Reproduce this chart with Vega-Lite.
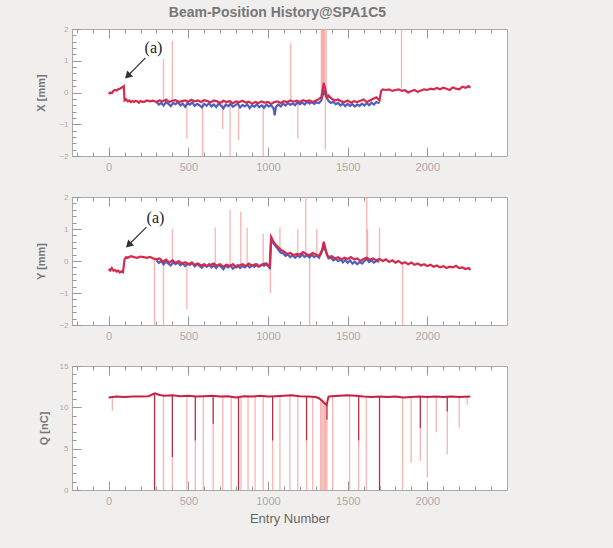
{
  "$schema": "https://vega.github.io/schema/vega-lite/v6.json",
  "background": "#f1efee",
  "padding": {"left": 35, "top": 5, "right": 105, "bottom": 22},
  "title": {"text": "Beam-Position History@SPA1C5", "fontSize": 14, "color": "#777", "fontWeight": "bold", "font": "Liberation Sans", "offset": 5, "anchor": "middle", "dx": 6},
  "config": {
    "view": {"fill": "white", "stroke": "#aaa", "strokeWidth": 1},
    "axis": {"grid": false, "domain": false, "labelColor": "#aaa", "titleColor": "#777", "tickColor": "#999", "labelFont": "Liberation Sans", "titleFont": "Liberation Sans"},
    "concat": {"spacing": 19}
  },
  "datasets": {
    "xr": [
      {"e":0,"v":-0.05},{"e":10,"v":0.0},{"e":20,"v":-0.02},{"e":30,"v":0.05},{"e":40,"v":0.08},{"e":50,"v":0.06},{"e":60,"v":0.1},{"e":70,"v":0.12},{"e":80,"v":0.15},{"e":90,"v":0.18},{"e":95,"v":0.2},
      {"e":100,"v":-0.25},{"e":110,"v":-0.22},{"e":120,"v":-0.28},{"e":130,"v":-0.25},{"e":140,"v":-0.3},{"e":150,"v":-0.27},{"e":160,"v":-0.3},{"e":170,"v":-0.26},{"e":180,"v":-0.28},{"e":190,"v":-0.32},{"e":200,"v":-0.27},
      {"e":220,"v":-0.3},{"e":240,"v":-0.25},{"e":260,"v":-0.28},{"e":280,"v":-0.26},{"e":300,"v":-0.3},{"e":320,"v":-0.25},{"e":340,"v":-0.28},{"e":360,"v":-0.22},{"e":380,"v":-0.3},{"e":400,"v":-0.26},
      {"e":420,"v":-0.24},{"e":440,"v":-0.3},{"e":460,"v":-0.27},{"e":480,"v":-0.25},{"e":500,"v":-0.29},{"e":520,"v":-0.23},{"e":540,"v":-0.28},{"e":560,"v":-0.25},{"e":580,"v":-0.3},{"e":600,"v":-0.24},
      {"e":620,"v":-0.27},{"e":640,"v":-0.31},{"e":660,"v":-0.25},{"e":680,"v":-0.28},{"e":700,"v":-0.33},{"e":720,"v":-0.26},{"e":740,"v":-0.3},{"e":760,"v":-0.27},{"e":780,"v":-0.34},{"e":800,"v":-0.28},
      {"e":820,"v":-0.3},{"e":840,"v":-0.26},{"e":860,"v":-0.32},{"e":880,"v":-0.29},{"e":900,"v":-0.35},{"e":920,"v":-0.3},{"e":940,"v":-0.33},{"e":960,"v":-0.28},{"e":980,"v":-0.32},{"e":1000,"v":-0.3},
      {"e":1020,"v":-0.36},{"e":1040,"v":-0.3},{"e":1060,"v":-0.28},{"e":1080,"v":-0.33},{"e":1100,"v":-0.27},{"e":1120,"v":-0.3},{"e":1140,"v":-0.25},{"e":1160,"v":-0.29},{"e":1180,"v":-0.26},{"e":1200,"v":-0.3},
      {"e":1220,"v":-0.24},{"e":1240,"v":-0.28},{"e":1260,"v":-0.25},{"e":1280,"v":-0.3},{"e":1300,"v":-0.26},{"e":1320,"v":-0.2},{"e":1335,"v":-0.15},{"e":1350,"v":0.3},{"e":1360,"v":0.1},{"e":1370,"v":-0.15},
      {"e":1380,"v":-0.1},{"e":1400,"v":-0.2},{"e":1420,"v":-0.25},{"e":1440,"v":-0.22},{"e":1460,"v":-0.28},{"e":1480,"v":-0.3},{"e":1500,"v":-0.25},{"e":1520,"v":-0.32},{"e":1540,"v":-0.27},{"e":1560,"v":-0.3},
      {"e":1580,"v":-0.26},{"e":1600,"v":-0.22},{"e":1620,"v":-0.3},{"e":1640,"v":-0.25},{"e":1660,"v":-0.2},{"e":1680,"v":-0.15},{"e":1700,"v":-0.25},{"e":1710,"v":0.05},{"e":1720,"v":0.1},{"e":1740,"v":0.08},
      {"e":1760,"v":0.1},{"e":1780,"v":0.05},{"e":1800,"v":0.08},{"e":1820,"v":0.1},{"e":1840,"v":0.05},{"e":1860,"v":0.07},{"e":1880,"v":0.0},{"e":1900,"v":0.05},{"e":1920,"v":0.08},{"e":1940,"v":0.02},
      {"e":1960,"v":0.06},{"e":1980,"v":0.1},{"e":2000,"v":0.08},{"e":2020,"v":0.12},{"e":2040,"v":0.1},{"e":2060,"v":0.14},{"e":2080,"v":0.1},{"e":2100,"v":0.15},{"e":2120,"v":0.12},{"e":2140,"v":0.08},
      {"e":2160,"v":0.16},{"e":2180,"v":0.12},{"e":2200,"v":0.1},{"e":2220,"v":0.18},{"e":2240,"v":0.15},{"e":2260,"v":0.2},{"e":2270,"v":0.15}
    ],
    "xb": [
      {"e":300,"v":-0.3},{"e":315,"v":-0.38},{"e":330,"v":-0.33},{"e":345,"v":-0.41},{"e":360,"v":-0.3},{"e":375,"v":-0.36},{"e":390,"v":-0.43},{"e":405,"v":-0.33},{"e":420,"v":-0.37},{"e":435,"v":-0.3},
      {"e":450,"v":-0.41},{"e":465,"v":-0.35},{"e":480,"v":-0.45},{"e":495,"v":-0.34},{"e":510,"v":-0.38},{"e":525,"v":-0.31},{"e":540,"v":-0.42},{"e":555,"v":-0.36},{"e":570,"v":-0.4},{"e":585,"v":-0.47},
      {"e":600,"v":-0.36},{"e":615,"v":-0.42},{"e":630,"v":-0.33},{"e":645,"v":-0.44},{"e":660,"v":-0.38},{"e":675,"v":-0.46},{"e":690,"v":-0.35},{"e":705,"v":-0.41},{"e":720,"v":-0.5},{"e":735,"v":-0.38},
      {"e":750,"v":-0.43},{"e":765,"v":-0.36},{"e":780,"v":-0.45},{"e":795,"v":-0.4},{"e":810,"v":-0.35},{"e":825,"v":-0.47},{"e":840,"v":-0.39},{"e":855,"v":-0.44},{"e":870,"v":-0.37},{"e":885,"v":-0.49},
      {"e":900,"v":-0.4},{"e":915,"v":-0.45},{"e":930,"v":-0.37},{"e":945,"v":-0.46},{"e":960,"v":-0.41},{"e":975,"v":-0.48},{"e":990,"v":-0.38},{"e":1005,"v":-0.44},{"e":1020,"v":-0.4},{"e":1035,"v":-0.5},
      {"e":1042,"v":-0.72},{"e":1050,"v":-0.45},{"e":1065,"v":-0.38},{"e":1080,"v":-0.44},{"e":1095,"v":-0.35},{"e":1110,"v":-0.41},{"e":1125,"v":-0.33},{"e":1140,"v":-0.39},{"e":1155,"v":-0.34},{"e":1170,"v":-0.4},
      {"e":1185,"v":-0.31},{"e":1200,"v":-0.37},{"e":1215,"v":-0.32},{"e":1230,"v":-0.38},{"e":1245,"v":-0.29},{"e":1260,"v":-0.35},{"e":1275,"v":-0.3},{"e":1290,"v":-0.36},{"e":1305,"v":-0.31},{"e":1320,"v":-0.33},
      {"e":1335,"v":-0.25},{"e":1350,"v":0.05},{"e":1365,"v":-0.12},{"e":1380,"v":-0.27},{"e":1395,"v":-0.33},{"e":1410,"v":-0.29},{"e":1425,"v":-0.37},{"e":1440,"v":-0.33},{"e":1455,"v":-0.41},{"e":1470,"v":-0.35},
      {"e":1485,"v":-0.43},{"e":1500,"v":-0.36},{"e":1515,"v":-0.42},{"e":1530,"v":-0.37},{"e":1545,"v":-0.44},{"e":1560,"v":-0.38},{"e":1575,"v":-0.42},{"e":1590,"v":-0.35},{"e":1605,"v":-0.41},{"e":1620,"v":-0.33},
      {"e":1635,"v":-0.4},{"e":1650,"v":-0.32},{"e":1665,"v":-0.38},{"e":1680,"v":-0.3},{"e":1700,"v":-0.34}
    ],
    "xsp": [
      {"e":344,"b":-0.27,"v":1.05},{"e":400,"b":-0.26,"v":1.62},{"e":491,"b":-0.28,"v":-1.45},{"e":590,"b":-0.28,"v":-2},{"e":716,"b":-0.28,"v":-1.15},
      {"e":762,"b":-0.28,"v":-2},{"e":815,"b":-0.29,"v":-1.5},{"e":970,"b":-0.3,"v":-2},{"e":1143,"b":-0.27,"v":1.55},{"e":1187,"b":-0.28,"v":-1.45},
      {"e":1335,"b":-0.2,"v":2},{"e":1340,"b":-0.2,"v":2},{"e":1345,"b":-0.1,"v":2},{"e":1350,"b":0,"v":2},{"e":1355,"b":0.2,"v":2},{"e":1360,"b":0,"v":-1.8},{"e":1365,"b":-0.1,"v":2},
      {"e":1838,"b":0.05,"v":2}
    ],
    "yr": [
      {"e":0,"v":-0.25},{"e":10,"v":-0.3},{"e":20,"v":-0.22},{"e":30,"v":-0.3},{"e":40,"v":-0.28},{"e":50,"v":-0.33},{"e":60,"v":-0.3},{"e":70,"v":-0.36},{"e":80,"v":-0.32},{"e":90,"v":-0.35},
      {"e":100,"v":0.05},{"e":110,"v":0.12},{"e":120,"v":0.1},{"e":140,"v":0.15},{"e":160,"v":0.12},{"e":180,"v":0.1},{"e":200,"v":0.14},{"e":220,"v":0.12},{"e":240,"v":0.1},{"e":260,"v":0.13},
      {"e":280,"v":0.08},{"e":300,"v":0.05},{"e":320,"v":0.08},{"e":340,"v":-0.02},{"e":360,"v":0.04},{"e":380,"v":-0.05},{"e":400,"v":0.02},{"e":420,"v":-0.06},{"e":440,"v":0.0},{"e":460,"v":-0.08},
      {"e":480,"v":-0.04},{"e":500,"v":-0.1},{"e":520,"v":-0.05},{"e":540,"v":-0.12},{"e":560,"v":-0.08},{"e":580,"v":-0.14},{"e":600,"v":-0.1},{"e":620,"v":-0.16},{"e":640,"v":-0.12},{"e":660,"v":-0.08},
      {"e":680,"v":-0.15},{"e":700,"v":-0.1},{"e":720,"v":-0.18},{"e":740,"v":-0.12},{"e":760,"v":-0.16},{"e":780,"v":-0.1},{"e":800,"v":-0.2},{"e":820,"v":-0.14},{"e":840,"v":-0.1},{"e":860,"v":-0.16},
      {"e":880,"v":-0.08},{"e":900,"v":-0.15},{"e":920,"v":-0.1},{"e":940,"v":-0.18},{"e":960,"v":-0.12},{"e":980,"v":-0.08},{"e":1000,"v":-0.15},{"e":1010,"v":-0.2},{"e":1020,"v":0.75},{"e":1030,"v":0.65},
      {"e":1040,"v":0.55},{"e":1060,"v":0.45},{"e":1080,"v":0.35},{"e":1100,"v":0.3},{"e":1120,"v":0.22},{"e":1140,"v":0.25},{"e":1160,"v":0.18},{"e":1180,"v":0.22},{"e":1200,"v":0.2},{"e":1220,"v":0.28},
      {"e":1240,"v":0.22},{"e":1260,"v":0.18},{"e":1280,"v":0.25},{"e":1300,"v":0.2},{"e":1320,"v":0.15},{"e":1340,"v":0.35},{"e":1350,"v":0.6},{"e":1360,"v":0.4},{"e":1370,"v":0.2},{"e":1380,"v":0.12},
      {"e":1400,"v":0.15},{"e":1420,"v":0.08},{"e":1440,"v":0.12},{"e":1460,"v":0.05},{"e":1480,"v":0.1},{"e":1500,"v":0.06},{"e":1520,"v":0.12},{"e":1540,"v":0.05},{"e":1560,"v":0.08},{"e":1580,"v":0.0},
      {"e":1600,"v":0.06},{"e":1620,"v":0.1},{"e":1640,"v":0.04},{"e":1660,"v":0.08},{"e":1680,"v":0.02},{"e":1700,"v":0.06},{"e":1720,"v":0.0},{"e":1740,"v":0.05},{"e":1760,"v":-0.03},{"e":1780,"v":0.02},
      {"e":1800,"v":-0.05},{"e":1820,"v":0.0},{"e":1840,"v":-0.08},{"e":1860,"v":-0.04},{"e":1880,"v":-0.1},{"e":1900,"v":-0.05},{"e":1920,"v":-0.12},{"e":1940,"v":-0.08},{"e":1960,"v":-0.14},{"e":1980,"v":-0.1},
      {"e":2000,"v":-0.16},{"e":2020,"v":-0.12},{"e":2040,"v":-0.18},{"e":2060,"v":-0.14},{"e":2080,"v":-0.2},{"e":2100,"v":-0.16},{"e":2120,"v":-0.22},{"e":2140,"v":-0.18},{"e":2160,"v":-0.2},{"e":2180,"v":-0.15},
      {"e":2200,"v":-0.22},{"e":2220,"v":-0.2},{"e":2240,"v":-0.25},{"e":2260,"v":-0.22},{"e":2270,"v":-0.28}
    ],
    "yb": [
      {"e":300,"v":0.02},{"e":315,"v":-0.06},{"e":330,"v":0.0},{"e":345,"v":-0.1},{"e":360,"v":-0.02},{"e":375,"v":-0.08},{"e":390,"v":-0.14},{"e":405,"v":-0.04},{"e":420,"v":-0.1},{"e":435,"v":-0.05},
      {"e":450,"v":-0.13},{"e":465,"v":-0.07},{"e":480,"v":-0.16},{"e":495,"v":-0.08},{"e":510,"v":-0.12},{"e":525,"v":-0.06},{"e":540,"v":-0.17},{"e":555,"v":-0.1},{"e":570,"v":-0.15},{"e":585,"v":-0.21},
      {"e":600,"v":-0.12},{"e":615,"v":-0.18},{"e":630,"v":-0.1},{"e":645,"v":-0.2},{"e":660,"v":-0.14},{"e":675,"v":-0.22},{"e":690,"v":-0.12},{"e":705,"v":-0.18},{"e":720,"v":-0.26},{"e":735,"v":-0.15},
      {"e":750,"v":-0.2},{"e":765,"v":-0.14},{"e":780,"v":-0.24},{"e":795,"v":-0.18},{"e":810,"v":-0.13},{"e":825,"v":-0.22},{"e":840,"v":-0.16},{"e":855,"v":-0.2},{"e":870,"v":-0.12},{"e":885,"v":-0.2},
      {"e":900,"v":-0.13},{"e":915,"v":-0.18},{"e":930,"v":-0.1},{"e":945,"v":-0.17},{"e":960,"v":-0.12},{"e":975,"v":-0.15},{"e":990,"v":-0.08},{"e":1005,"v":-0.14},{"e":1012,"v":-0.25},{"e":1020,"v":0.68},
      {"e":1035,"v":0.55},{"e":1050,"v":0.45},{"e":1065,"v":0.36},{"e":1080,"v":0.26},{"e":1095,"v":0.24},{"e":1110,"v":0.16},{"e":1125,"v":0.2},{"e":1140,"v":0.12},{"e":1155,"v":0.18},{"e":1170,"v":0.1},
      {"e":1185,"v":0.17},{"e":1200,"v":0.12},{"e":1215,"v":0.2},{"e":1230,"v":0.13},{"e":1245,"v":0.18},{"e":1260,"v":0.11},{"e":1275,"v":0.19},{"e":1290,"v":0.12},{"e":1305,"v":0.17},{"e":1320,"v":0.1},
      {"e":1335,"v":0.25},{"e":1350,"v":0.45},{"e":1365,"v":0.28},{"e":1380,"v":0.08},{"e":1395,"v":0.1},{"e":1410,"v":0.02},{"e":1425,"v":0.07},{"e":1440,"v":0.0},{"e":1455,"v":0.05},{"e":1470,"v":-0.04},
      {"e":1485,"v":0.03},{"e":1500,"v":-0.06},{"e":1515,"v":0.02},{"e":1530,"v":-0.08},{"e":1545,"v":-0.02},{"e":1560,"v":-0.1},{"e":1575,"v":-0.03},{"e":1590,"v":-0.08},{"e":1605,"v":0.0},{"e":1620,"v":0.06},
      {"e":1635,"v":-0.03},{"e":1650,"v":0.02},{"e":1665,"v":-0.05},{"e":1680,"v":0.0},{"e":1700,"v":-0.02}
    ],
    "ysp": [
      {"e":288,"b":0.08,"v":-2},{"e":344,"b":0.0,"v":-2},{"e":400,"b":0.0,"v":1.0},{"e":491,"b":-0.08,"v":-1.5},{"e":669,"b":-0.1,"v":1.05},
      {"e":762,"b":-0.15,"v":1.6},{"e":829,"b":-0.14,"v":1.55},{"e":869,"b":-0.12,"v":1.05},{"e":970,"b":-0.1,"v":0.85},{"e":1015,"b":-0.2,"v":-1.0},
      {"e":1075,"b":0.35,"v":1.05},{"e":1187,"b":0.22,"v":1.0},{"e":1237,"b":0.22,"v":2},{"e":1262,"b":0.2,"v":-2},{"e":1306,"b":0.2,"v":1.0},
      {"e":1620,"b":0.1,"v":2},{"e":1625,"b":0.1,"v":1.0},{"e":1700,"b":0.05,"v":1.05},{"e":1845,"b":-0.05,"v":-2}
    ],
    "qr": [
      {"e":0,"v":11.2},{"e":50,"v":11.3},{"e":100,"v":11.25},{"e":150,"v":11.3},{"e":200,"v":11.3},{"e":250,"v":11.35},{"e":290,"v":11.7},{"e":320,"v":11.5},{"e":350,"v":11.4},{"e":400,"v":11.45},
      {"e":450,"v":11.35},{"e":500,"v":11.4},{"e":550,"v":11.3},{"e":600,"v":11.35},{"e":650,"v":11.4},{"e":700,"v":11.3},{"e":750,"v":11.35},{"e":800,"v":11.2},{"e":850,"v":11.35},{"e":900,"v":11.3},
      {"e":950,"v":11.4},{"e":1000,"v":11.3},{"e":1050,"v":11.35},{"e":1100,"v":11.4},{"e":1150,"v":11.45},{"e":1200,"v":11.35},{"e":1250,"v":11.3},{"e":1300,"v":11.25},{"e":1320,"v":11.1},{"e":1340,"v":10.8},
      {"e":1355,"v":10.5},{"e":1368,"v":10.3},{"e":1380,"v":11.3},{"e":1400,"v":11.35},{"e":1450,"v":11.4},{"e":1500,"v":11.45},{"e":1550,"v":11.4},{"e":1600,"v":11.3},{"e":1650,"v":11.25},{"e":1700,"v":11.3},
      {"e":1750,"v":11.25},{"e":1800,"v":11.3},{"e":1850,"v":11.2},{"e":1900,"v":11.25},{"e":1950,"v":11.3},{"e":2000,"v":11.25},{"e":2050,"v":11.3},{"e":2100,"v":11.25},{"e":2150,"v":11.3},{"e":2200,"v":11.25},{"e":2270,"v":11.3}
    ],
    "qsp": [
      {"e":23,"b":11.2,"v":9.6},{"e":288,"b":11.6,"v":0},{"e":344,"b":11.4,"v":0},{"e":400,"b":11.45,"v":0},{"e":491,"b":11.4,"v":0},
      {"e":544,"b":11.3,"v":0},{"e":594,"b":11.35,"v":0},{"e":656,"b":11.4,"v":0},{"e":716,"b":11.3,"v":0},{"e":769,"b":11.35,"v":0},
      {"e":815,"b":11.2,"v":0},{"e":831,"b":11.3,"v":0},{"e":875,"b":11.35,"v":0},{"e":919,"b":11.3,"v":0},{"e":970,"b":11.4,"v":0},
      {"e":1029,"b":11.3,"v":0},{"e":1075,"b":11.35,"v":0},{"e":1137,"b":11.4,"v":0},{"e":1187,"b":11.4,"v":0},{"e":1242,"b":11.3,"v":0},
      {"e":1281,"b":11.25,"v":0},{"e":1330,"b":11.0,"v":0},{"e":1338,"b":10.9,"v":0},{"e":1346,"b":10.7,"v":0},{"e":1354,"b":10.5,"v":0},{"e":1362,"b":10.4,"v":0},{"e":1370,"b":10.3,"v":0},
      {"e":1406,"b":11.35,"v":0},{"e":1512,"b":11.45,"v":0},{"e":1569,"b":11.4,"v":0},{"e":1617,"b":11.3,"v":0},{"e":1700,"b":11.3,"v":0},
      {"e":1845,"b":11.2,"v":0},{"e":1898,"b":11.25,"v":3.3},{"e":1956,"b":11.3,"v":3.5},{"e":2000,"b":11.25,"v":1.5},{"e":2056,"b":11.3,"v":7.0},
      {"e":2125,"b":11.25,"v":4.3},{"e":2200,"b":11.25,"v":7.5},{"e":2250,"b":11.3,"v":10.3}
    ],
    "qdk": [
      {"e":288,"b":11.6,"v":0},{"e":400,"b":11.45,"v":4},{"e":544,"b":11.3,"v":6},{"e":656,"b":11.4,"v":8},{"e":815,"b":11.2,"v":0},
      {"e":1029,"b":11.3,"v":6},{"e":1242,"b":11.3,"v":6},{"e":1370,"b":10.3,"v":8.5},{"e":1569,"b":11.4,"v":6},{"e":1700,"b":11.3,"v":0},
      {"e":1956,"b":11.3,"v":7.5},{"e":2125,"b":11.25,"v":9.5}
    ],
    "xann": [{"e":281,"v":1.4,"t":"(a)"}],
    "xarrow": [{"e":231,"v":1.09,"e2":119,"v2":0.52}],
    "yann": [{"e":294,"v":1.34,"t":"(a)"}],
    "yarrow": [{"e":237,"v":1.06,"e2":125,"v2":0.5}]
  },
  "vconcat": [
    {
      "width": 435, "height": 127,
      "resolve": {"axis": {"x": "independent", "y": "independent"}},
      "layer": [
        {
          "data": {"name": "xsp"},
          "mark": {"type": "rule", "color": "#f4a29c", "strokeWidth": 1.3, "opacity": 0.8, "clip": true},
          "encoding": {
            "x": {"field": "e", "type": "quantitative", "scale": {"domain": [-230, 2500], "nice": false},
                  "axis": {"orient": "bottom", "values": [0, 500, 1000, 1500, 2000], "format": "d", "ticks": false, "labelPadding": 5, "labelFontSize": 11, "title": null}},
            "y": {"field": "b", "type": "quantitative", "scale": {"domain": [-2, 2], "nice": false},
                  "axis": {"orient": "left", "values": [-2, -1, 0, 1, 2], "ticks": false, "labelFontSize": 8, "labelPadding": 4, "title": "X [mm]", "titleFontSize": 11, "titleFontWeight": "bold", "titlePadding": 12}},
            "y2": {"field": "v"}
          }
        },
        {
          "data": {"name": "xb"},
          "mark": {"type": "line", "color": "#3b4fb8", "strokeWidth": 2.2, "opacity": 0.9, "clip": true},
          "encoding": {
            "x": {"field": "e", "type": "quantitative",
                  "axis": {"orient": "bottom", "values": [-200,-100,0,100,200,300,400,500,600,700,800,900,1000,1100,1200,1300,1400,1500,1600,1700,1800,1900,2000,2100,2200,2300,2400], "labels": false, "title": null, "tickSize": -4}},
            "y": {"field": "v", "type": "quantitative",
                  "axis": {"orient": "left", "values": [-2,-1.8,-1.6,-1.4,-1.2,-1,-0.8,-0.6,-0.4,-0.2,0,0.2,0.4,0.6,0.8,1,1.2,1.4,1.6,1.8,2], "labels": false, "title": null, "tickSize": -4}}
          }
        },
        {
          "data": {"name": "xr"},
          "mark": {"type": "line", "color": "#d42a4c", "strokeWidth": 2.2, "clip": true},
          "encoding": {
            "x": {"field": "e", "type": "quantitative",
                  "axis": {"orient": "top", "values": [-200,-100,0,100,200,300,400,500,600,700,800,900,1000,1100,1200,1300,1400,1500,1600,1700,1800,1900,2000,2100,2200,2300,2400], "labels": false, "title": null, "tickSize": -4}},
            "y": {"field": "v", "type": "quantitative", "axis": null}
          }
        },
        {
          "data": {"name": "xann"},
          "mark": {"type": "text", "font": "Liberation Serif", "fontSize": 16, "color": "#222"},
          "encoding": {
            "x": {"field": "e", "type": "quantitative", "axis": {"orient": "bottom", "values": [0, 500, 1000, 1500, 2000], "labels": false, "title": null, "tickSize": -9}},
            "y": {"field": "v", "type": "quantitative", "axis": {"orient": "left", "values": [-2, -1, 0, 1, 2], "labels": false, "title": null, "tickSize": -9}},
            "text": {"field": "t"}
          }
        },
        {
          "data": {"name": "xarrow"},
          "mark": {"type": "rule", "color": "#333", "strokeWidth": 1.2},
          "encoding": {
            "x": {"field": "e", "type": "quantitative", "axis": {"orient": "top", "values": [0, 500, 1000, 1500, 2000], "labels": false, "title": null, "tickSize": -9}},
            "y": {"field": "v", "type": "quantitative", "axis": null},
            "x2": {"field": "e2"},
            "y2": {"field": "v2"}
          }
        },
        {
          "data": {"name": "xarrow"},
          "mark": {"type": "point", "shape": "triangle-up", "filled": true, "color": "#333", "size": 70, "angle": 225, "opacity": 1},
          "encoding": {
            "x": {"field": "e2", "type": "quantitative", "axis": null},
            "y": {"field": "v2", "type": "quantitative", "axis": null}
          }
        }
      ]
    },
    {
      "width": 435, "height": 128,
      "resolve": {"axis": {"x": "independent", "y": "independent"}},
      "layer": [
        {
          "data": {"name": "ysp"},
          "mark": {"type": "rule", "color": "#f4a29c", "strokeWidth": 1.3, "opacity": 0.8, "clip": true},
          "encoding": {
            "x": {"field": "e", "type": "quantitative", "scale": {"domain": [-230, 2500], "nice": false},
                  "axis": {"orient": "bottom", "values": [0, 500, 1000, 1500, 2000], "format": "d", "ticks": false, "labelPadding": 5, "labelFontSize": 11, "title": null}},
            "y": {"field": "b", "type": "quantitative", "scale": {"domain": [-2, 2], "nice": false},
                  "axis": {"orient": "left", "values": [-2, -1, 0, 1, 2], "ticks": false, "labelFontSize": 8, "labelPadding": 4, "title": "Y [mm]", "titleFontSize": 11, "titleFontWeight": "bold", "titlePadding": 12}},
            "y2": {"field": "v"}
          }
        },
        {
          "data": {"name": "yb"},
          "mark": {"type": "line", "color": "#3b4fb8", "strokeWidth": 2.2, "opacity": 0.9, "clip": true},
          "encoding": {
            "x": {"field": "e", "type": "quantitative",
                  "axis": {"orient": "bottom", "values": [-200,-100,0,100,200,300,400,500,600,700,800,900,1000,1100,1200,1300,1400,1500,1600,1700,1800,1900,2000,2100,2200,2300,2400], "labels": false, "title": null, "tickSize": -4}},
            "y": {"field": "v", "type": "quantitative",
                  "axis": {"orient": "left", "values": [-2,-1.8,-1.6,-1.4,-1.2,-1,-0.8,-0.6,-0.4,-0.2,0,0.2,0.4,0.6,0.8,1,1.2,1.4,1.6,1.8,2], "labels": false, "title": null, "tickSize": -4}}
          }
        },
        {
          "data": {"name": "yr"},
          "mark": {"type": "line", "color": "#d42a4c", "strokeWidth": 2.2, "clip": true},
          "encoding": {
            "x": {"field": "e", "type": "quantitative",
                  "axis": {"orient": "top", "values": [-200,-100,0,100,200,300,400,500,600,700,800,900,1000,1100,1200,1300,1400,1500,1600,1700,1800,1900,2000,2100,2200,2300,2400], "labels": false, "title": null, "tickSize": -4}},
            "y": {"field": "v", "type": "quantitative", "axis": null}
          }
        },
        {
          "data": {"name": "yann"},
          "mark": {"type": "text", "font": "Liberation Serif", "fontSize": 16, "color": "#222"},
          "encoding": {
            "x": {"field": "e", "type": "quantitative", "axis": {"orient": "bottom", "values": [0, 500, 1000, 1500, 2000], "labels": false, "title": null, "tickSize": -9}},
            "y": {"field": "v", "type": "quantitative", "axis": {"orient": "left", "values": [-2, -1, 0, 1, 2], "labels": false, "title": null, "tickSize": -9}},
            "text": {"field": "t"}
          }
        },
        {
          "data": {"name": "yarrow"},
          "mark": {"type": "rule", "color": "#333", "strokeWidth": 1.2},
          "encoding": {
            "x": {"field": "e", "type": "quantitative", "axis": {"orient": "top", "values": [0, 500, 1000, 1500, 2000], "labels": false, "title": null, "tickSize": -9}},
            "y": {"field": "v", "type": "quantitative", "axis": null},
            "x2": {"field": "e2"},
            "y2": {"field": "v2"}
          }
        },
        {
          "data": {"name": "yarrow"},
          "mark": {"type": "point", "shape": "triangle-up", "filled": true, "color": "#333", "size": 70, "angle": 225, "opacity": 1},
          "encoding": {
            "x": {"field": "e2", "type": "quantitative", "axis": null},
            "y": {"field": "v2", "type": "quantitative", "axis": null}
          }
        }
      ]
    },
    {
      "width": 435, "height": 124,
      "resolve": {"axis": {"x": "independent", "y": "independent"}},
      "layer": [
        {
          "data": {"name": "qsp"},
          "mark": {"type": "rule", "color": "#f4a29c", "strokeWidth": 1.3, "opacity": 0.8, "clip": true},
          "encoding": {
            "x": {"field": "e", "type": "quantitative", "scale": {"domain": [-230, 2500], "nice": false},
                  "axis": {"orient": "bottom", "values": [0, 500, 1000, 1500, 2000], "format": "d", "ticks": false, "labelPadding": 5, "labelFontSize": 11, "title": "Entry Number", "titleFontSize": 13, "titleFontWeight": "normal", "titleColor": "#666", "titlePadding": 6}},
            "y": {"field": "b", "type": "quantitative", "scale": {"domain": [0, 15], "nice": false},
                  "axis": {"orient": "left", "values": [0, 5, 10, 15], "ticks": false, "labelFontSize": 8, "labelPadding": 4, "title": "Q [nC]", "titleFontSize": 11, "titleFontWeight": "bold", "titlePadding": 10}},
            "y2": {"field": "v"}
          }
        },
        {
          "data": {"name": "qdk"},
          "mark": {"type": "rule", "color": "#a8182c", "strokeWidth": 1.2, "opacity": 0.85, "clip": true},
          "encoding": {
            "x": {"field": "e", "type": "quantitative",
                  "axis": {"orient": "bottom", "values": [-200,-100,0,100,200,300,400,500,600,700,800,900,1000,1100,1200,1300,1400,1500,1600,1700,1800,1900,2000,2100,2200,2300,2400], "labels": false, "title": null, "tickSize": -4}},
            "y": {"field": "b", "type": "quantitative",
                  "axis": {"orient": "left", "values": [0,1,2,3,4,5,6,7,8,9,10,11,12,13,14,15], "labels": false, "title": null, "tickSize": -4}},
            "y2": {"field": "v"}
          }
        },
        {
          "data": {"name": "qr"},
          "mark": {"type": "line", "color": "#c8203e", "strokeWidth": 2, "clip": true},
          "encoding": {
            "x": {"field": "e", "type": "quantitative",
                  "axis": {"orient": "top", "values": [-200,-100,0,100,200,300,400,500,600,700,800,900,1000,1100,1200,1300,1400,1500,1600,1700,1800,1900,2000,2100,2200,2300,2400], "labels": false, "title": null, "tickSize": -4}},
            "y": {"field": "v", "type": "quantitative", "axis": {"orient": "left", "values": [0, 5, 10, 15], "labels": false, "title": null, "tickSize": -9}}
          }
        },
        {
          "data": {"name": "qr"},
          "mark": {"type": "line", "color": "#c8203e", "strokeWidth": 2, "opacity": 0, "clip": true},
          "encoding": {
            "x": {"field": "e", "type": "quantitative", "axis": {"orient": "bottom", "values": [0, 500, 1000, 1500, 2000], "labels": false, "title": null, "tickSize": -9}},
            "y": {"field": "v", "type": "quantitative", "axis": null}
          }
        },
        {
          "data": {"name": "qr"},
          "mark": {"type": "line", "color": "#c8203e", "strokeWidth": 2, "opacity": 0, "clip": true},
          "encoding": {
            "x": {"field": "e", "type": "quantitative", "axis": {"orient": "top", "values": [0, 500, 1000, 1500, 2000], "labels": false, "title": null, "tickSize": -9}},
            "y": {"field": "v", "type": "quantitative", "axis": null}
          }
        }
      ]
    }
  ]
}
